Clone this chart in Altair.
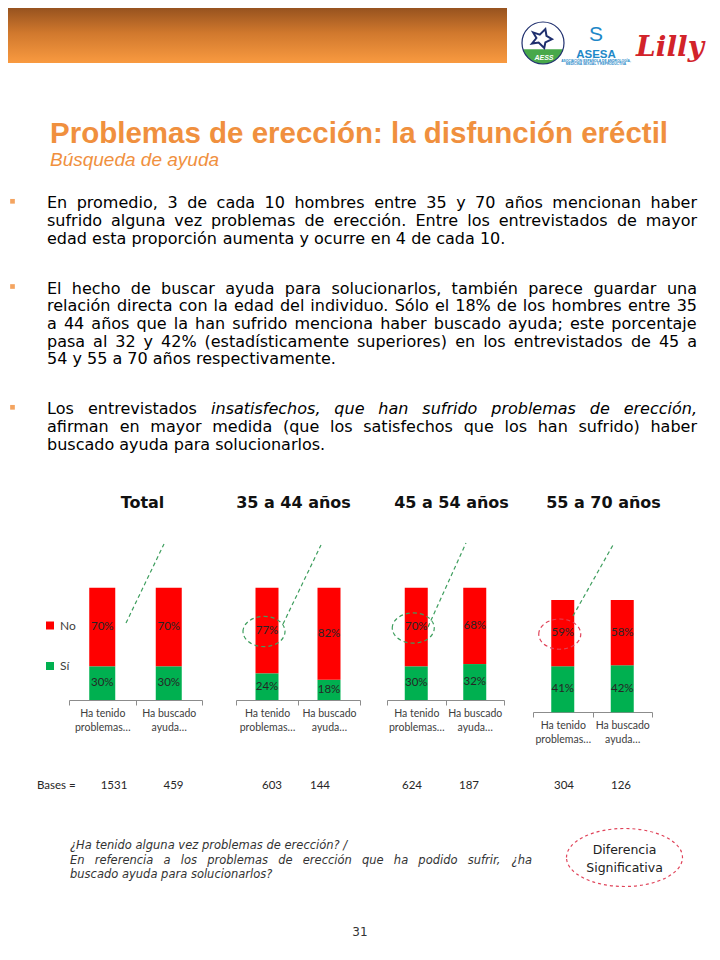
import unicodedata
import pandas as pd
import altair as alt

# ---------------- data ----------------
GROUPS = ["Total", "35 a 44 años", "45 a 54 años", "55 a 70 años"]
CATEGORIES = ["Ha tenido problemas…", "Ha buscado ayuda…"]
RESPONSES = ["No", "Sí"]
SI_TENIDO = [30, 24, 30, 41]
NO_TENIDO = [70, 77, 70, 59]
SI_BUSCADO = [30, 18, 32, 42]
NO_BUSCADO = [70, 82, 68, 58]
BASES_TENIDO = [1531, 603, 624, 304]
BASES_BUSCADO = [459, 144, 187, 126]
HIGHLIGHT = ["", "verde", "verde", "rojo"]   # dashed ring around "Ha tenido / No"
COLORS = ["#FF0000", "#00B050"]

TITLE = "Problemas de erección: la disfunción eréctil"
SUBTITLE = "Búsqueda de ayuda"
BULLETS = [
    ["En promedio, 3 de cada 10 hombres entre 35 y 70 años mencionan haber",
     "sufrido alguna vez problemas de erección. Entre los entrevistados de mayor",
     "edad esta proporción aumenta y ocurre en 4 de cada 10."],
    ["El hecho de buscar ayuda para solucionarlos, también parece guardar una",
     "relación directa con la edad del individuo. Sólo el 18% de los hombres entre 35",
     "a 44 años que la han sufrido menciona haber buscado ayuda; este porcentaje",
     "pasa al 32 y 42% (estadísticamente superiores) en los entrevistados de 45 a",
     "54 y 55 a 70 años respectivamente."],
    ["Los entrevistados _insatisfechos, _que _han _sufrido _problemas _de _erección,",
     "afirman en mayor medida (que los satisfechos que los han sufrido) haber",
     "buscado ayuda para solucionarlos."],
]
FOOTER_Q1 = ["¿Ha tenido alguna vez problemas de erección? /"]
FOOTER_Q2 = ["En referencia a los problemas de erección que ha podido sufrir, ¿ha",
             "buscado ayuda para solucionarlos?"]

# ---------------- layout (screen pixels) ----------------
OFF = 8
def px(v):
    return v - OFF

PANEL_X = [(69, 202), (236, 360), (387, 504), (533, 652)]
PANEL_Y = [(700, 587.7), (700, 587.7), (700, 587.7), (712.3, 600)]
BAR_W = [26, 23, 23, 23]
AXIS_OFF = [0, 0, 0, 12]
GROUP_TITLE_X = [142.5, 293.5, 451.5, 603.5]
BASE_X = [(114, 173.5), (272, 320), (412, 469), (564, 621)]
BULLET_Y = [208.3, 293.5, 414.3]
LINE_H = 17.7

ONE = pd.DataFrame({"k": [0]})

# DejaVu Sans advance widths (per 1000 em)
W = {" ": 318, "!": 401, "%": 950, "(": 390, ")": 390, ",": 318, "-": 361, ".": 318,
     "/": 337, ":": 337, ";": 337, "?": 531, "¿": 531,
     "A": 684, "B": 686, "C": 698, "D": 770, "E": 632, "F": 575, "G": 775, "H": 752,
     "I": 295, "L": 557, "M": 863, "N": 748, "O": 787, "P": 603, "R": 695, "S": 635,
     "T": 611, "a": 613, "b": 635, "c": 550, "d": 635, "e": 615, "f": 352, "g": 635,
     "h": 634, "i": 278, "j": 278, "k": 579, "l": 278, "m": 974, "n": 634, "o": 612,
     "p": 635, "q": 635, "r": 411, "s": 521, "t": 392, "u": 634, "v": 592, "w": 818,
     "x": 592, "y": 592, "z": 525}
for dgt in "0123456789":
    W[dgt] = 636


def glyph_w(c):
    if c in W:
        return W[c]
    base = unicodedata.normalize("NFD", c)[0]
    return W.get(base, 620)


def text_w(s, size):
    return sum(glyph_w(c) for c in s) * size / 1000.0


def set_paragraph(lines, left, right, y0, lh, size, force_style=None):
    items = []
    for li, line in enumerate(lines):
        words = line.split(" ")
        clean = []
        for w in words:
            if w.startswith("_"):
                clean.append((w[1:], "italic"))
            else:
                clean.append((w, force_style or "normal"))
        widths = [text_w(w, size) for w, _ in clean]
        last = li == len(lines) - 1
        if last or len(clean) == 1:
            gap = text_w(" ", size)
        else:
            gap = (right - left - sum(widths)) / (len(clean) - 1)
        x = left
        for (w, st), wd in zip(clean, widths):
            items.append({"t": w, "x": px(x), "y": px(y0 + li * lh), "st": st})
            x += wd + gap
    return items


def words_layer(items, size, color, style, font="DejaVu Sans"):
    d = pd.DataFrame([i for i in items if i["st"] == style])
    return alt.Chart(d).mark_text(
        font=font, fontSize=size, color=color, fontStyle=style,
        align="left", baseline="alphabetic"
    ).encode(
        x=alt.X("x:Q", scale=None, axis=None),
        y=alt.Y("y:Q", scale=None, axis=None),
        text="t:N",
    )


def label(text, x, y, size, font="DejaVu Sans", color="#000000", align="left",
          weight="normal", style="normal", baseline="alphabetic"):
    return alt.Chart(ONE).mark_text(
        text=text, font=font, fontSize=size, color=color, align=align,
        fontWeight=weight, fontStyle=style, baseline=baseline
    ).encode(x=alt.value(px(x)), y=alt.value(px(y)))


def ellipse_path(ratio):
    return f"M-1,0 A1,{ratio} 0 1,1 1,0 A1,{ratio} 0 1,1 -1,0 Z"


layers = []

# ---------------- header ----------------
grad = alt.LinearGradient(
    gradient="linear",
    stops=[alt.GradientStop(color="#97531f", offset=0),
           alt.GradientStop(color="#d0782d", offset=0.45),
           alt.GradientStop(color="#f99a40", offset=1)],
    x1=0, x2=0, y1=0, y2=1)
layers.append(alt.Chart(ONE).mark_rect(color=grad).encode(
    x=alt.value(0), x2=alt.value(px(507)), y=alt.value(0), y2=alt.value(px(63))))

# AESS logo
layers.append(alt.Chart(ONE).mark_point(
    shape="M-0.954,0.3 A1,1 0 0,0 0.954,0.3 Z", size=1764, filled=True,
    color="#48a84a", opacity=1).encode(x=alt.value(px(543)), y=alt.value(px(43))))
layers.append(alt.Chart(ONE).mark_point(
    shape=ellipse_path(1), size=1764, filled=False, stroke="#1f2f6e",
    strokeWidth=1.2, opacity=1).encode(x=alt.value(px(543)), y=alt.value(px(43))))
layers.append(alt.Chart(ONE).mark_point(
    shape="M-0.8,-0.5 L-0.2,-0.3 L0.3,-0.8 L0.4,-0.2 L0.9,0.1 L0.3,0.4 L0.2,0.9 L-0.3,0.4 L-0.9,0.5 L-0.5,0 Z",
    size=500, filled=False, stroke="#1f2f6e", strokeWidth=2, opacity=1
).encode(x=alt.value(px(542)), y=alt.value(px(38))))
layers.append(label("AESS", 544, 60, 7, font="Liberation Sans", color="#ffffff",
                    align="center", weight="bold", style="italic"))
# ASESA logo
layers.append(label("S", 596, 41, 21, font="Liberation Sans", color="#1E88C8", align="center"))
layers.append(label("ASESA", 596, 57.5, 11.5, font="Liberation Sans", color="#1E88C8",
                    align="center", weight="bold"))
layers.append(label("ASOCIACIÓN ESPAÑOLA DE ANDROLOGÍA,", 596, 61.5, 3.3, font="Liberation Sans",
                    color="#1E88C8", align="center", weight="bold"))
layers.append(label("MEDICINA SEXUAL Y REPRODUCTIVA", 596, 65, 3.3, font="Liberation Sans",
                    color="#1E88C8", align="center", weight="bold"))
# Lilly logo
layers.append(label("Lilly", 670, 56, 28, font="DejaVu Serif", color="#D2232A",
                    align="center", weight="bold", style="italic"))

# ---------------- titles ----------------
layers.append(label(TITLE, 50, 142.5, 29.5, font="Liberation Sans", color="#F0903E", weight="bold"))
layers.append(label(SUBTITLE, 50, 166, 19, font="Liberation Sans", color="#F0903E", style="italic"))

# ---------------- bullets ----------------
items = []
for lines, y0 in zip(BULLETS, BULLET_Y):
    items += set_paragraph(lines, 47, 697, y0, LINE_H, 16)
layers.append(words_layer(items, 16, "#000000", "normal"))
layers.append(words_layer(items, 16, "#000000", "italic"))
for y0 in BULLET_Y:
    layers.append(alt.Chart(ONE).mark_point(shape="square", filled=True, size=22,
                                            color="#F4A460", opacity=1).encode(
        x=alt.value(px(12.5)), y=alt.value(px(y0 - 7))))

# ---------------- group titles ----------------
for g, gx in zip(GROUPS, GROUP_TITLE_X):
    layers.append(label(g, gx, 507.5, 16, color="#111111", align="center", weight="bold"))

# ---------------- bar panels ----------------
rows = []
for gi, g in enumerate(GROUPS):
    pairs = [(CATEGORIES[0], SI_TENIDO[gi], NO_TENIDO[gi]),
             (CATEGORIES[1], SI_BUSCADO[gi], NO_BUSCADO[gi])]
    for ci, (cat, si, no) in enumerate(pairs):
        rows.append({"group": g, "cat": cat, "resp": "Sí", "ord": 0, "value": si,
                     "label": f"{si}%", "hl": ""})
        rows.append({"group": g, "cat": cat, "resp": "No", "ord": 1, "value": no,
                     "label": f"{no}%", "hl": HIGHLIGHT[gi] if ci == 0 else ""})
df = pd.DataFrame(rows)

COLOR = alt.Color(
    "resp:N",
    scale=alt.Scale(domain=RESPONSES, range=COLORS),
    legend=alt.Legend(title=None, orient="none", legendX=36, legendY=611.5,
                      symbolType="square", symbolSize=64, symbolStrokeWidth=0,
                      labelFont="Lato", labelFontSize=12, labelColor="#404040",
                      labelOffset=4, rowPadding=28.5, padding=0),
)

RING_COLORS = {"verde": "#3E9E5E", "rojo": "#E0445A"}


def panel(gi):
    d = df[df["group"] == GROUPS[gi]]
    x0, x1 = PANEL_X[gi]
    yb, yt = PANEL_Y[gi]
    base = alt.Chart(d).transform_stack(
        stack="value", groupby=["cat"], as_=["v0", "v1"], offset="normalize",
        sort=[alt.SortField("ord", order="ascending")]
    ).transform_calculate(mid="(datum.v0 + datum.v1) / 2")
    xenc = alt.X(
        "cat:N", title=None,
        scale=alt.Scale(domain=CATEGORIES, range=[px(x0), px(x1)], paddingInner=0, paddingOuter=0),
        axis=alt.Axis(
            orient="bottom", offset=AXIS_OFF[gi], labelAngle=0,
            labelExpr="[slice(datum.label, 0, lastindexof(datum.label, ' ')), slice(datum.label, lastindexof(datum.label, ' ') + 1)]",
            labelFont="Lato", labelFontSize=10.5, labelColor="#404040", labelLineHeight=14,
            labelPadding=3, labelOverlap=False, tickBand="extent", tickSize=5,
            tickColor="#8C8C8C", domainColor="#8C8C8C", grid=False,
        ),
    )
    ysc = alt.Scale(domain=[0, 1], range=[px(yb), px(yt)], nice=False)
    bars = base.mark_bar(size=BAR_W[gi]).encode(
        x=xenc, y=alt.Y("v0:Q", scale=ysc, axis=None), y2="v1:Q", color=COLOR)
    texts = base.mark_text(font="Lato", fontSize=11.5, color="#262626",
                           align="center", baseline="middle").encode(
        x=xenc, y=alt.Y("mid:Q", scale=ysc, axis=None), text="label:N")
    parts = [bars, texts]
    if HIGHLIGHT[gi]:
        ring = base.transform_filter("datum.hl != ''").mark_point(
            shape=ellipse_path(0.72), size=1764, filled=False,
            stroke=RING_COLORS[HIGHLIGHT[gi]], strokeDash=[4, 3], strokeWidth=1.2,
            opacity=1, xOffset=-3, yOffset=1
        ).encode(x=xenc, y=alt.Y("mid:Q", scale=ysc, axis=None))
        parts.append(ring)
    return alt.layer(*parts)


for gi in range(len(GROUPS)):
    layers.append(panel(gi))

# dashed connectors
SEGMENTS = pd.DataFrame({
    "x1": [px(v) for v in [126, 283, 428, 573]],
    "y1": [px(v) for v in [623, 624, 627, 616]],
    "x2": [px(v) for v in [164, 321, 466, 613]],
    "y2": [px(v) for v in [544, 545, 543, 545]],
})
layers.append(alt.Chart(SEGMENTS).mark_rule(
    color="#3E9E5E", strokeDash=[4, 3], strokeWidth=1.2).encode(
    x=alt.X("x1:Q", scale=None, axis=None), y=alt.Y("y1:Q", scale=None, axis=None),
    x2="x2:Q", y2="y2:Q"))

# ---------------- bases row ----------------
layers.append(label("Bases =", 37, 789, 11.5, font="Lato", color="#262626"))
base_items = []
for gi in range(len(GROUPS)):
    base_items.append({"t": str(BASES_TENIDO[gi]), "x": px(BASE_X[gi][0]), "y": px(789)})
    base_items.append({"t": str(BASES_BUSCADO[gi]), "x": px(BASE_X[gi][1]), "y": px(789)})
layers.append(alt.Chart(pd.DataFrame(base_items)).mark_text(
    font="Lato", fontSize=11.5, color="#262626", align="center", baseline="alphabetic"
).encode(x=alt.X("x:Q", scale=None, axis=None), y=alt.Y("y:Q", scale=None, axis=None),
         text="t:N"))

# ---------------- footer ----------------
fitems = set_paragraph(FOOTER_Q1, 70, 532, 849, 14.5, 11.5, force_style="italic")
fitems += set_paragraph(FOOTER_Q2, 70, 532, 863.5, 14.5, 11.5, force_style="italic")
layers.append(words_layer(fitems, 11.5, "#333333", "italic"))

layers.append(alt.Chart(ONE).mark_point(
    shape=ellipse_path(0.5), size=13456, filled=False, stroke="#E0445A",
    strokeDash=[3, 3], strokeWidth=1.2, opacity=1).encode(
    x=alt.value(px(624.5)), y=alt.value(px(857.5))))
layers.append(label("Diferencia", 624.5, 854, 12.5, color="#222222", align="center"))
layers.append(label("Significativa", 624.5, 872, 12.5, color="#222222", align="center"))

layers.append(label("31", 360, 936, 12, color="#333333", align="center"))

chart = alt.layer(*layers).resolve_scale(
    x="independent", y="independent"
).properties(
    width=704, height=692,
    autosize=alt.AutoSizeParams(type="none"),
    padding={"left": 0, "top": 0, "right": 0, "bottom": 252},
    background="white",
).configure_view(stroke=None)

chart.save("out.html", embed_options={"renderer": "svg", "actions": False})
